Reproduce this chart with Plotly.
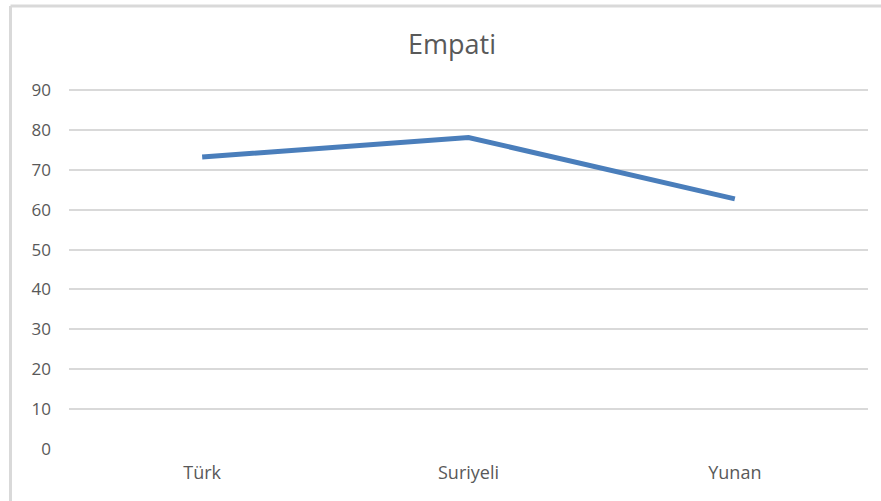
import plotly.graph_objects as go

# data
kategoriler = ["Türk", "Suriyeli", "Yunan"]
empati = [73.2, 78.1, 62.7]
y_ticks = [0, 10, 20, 30, 40, 50, 60, 70, 80, 90]

fig = go.Figure()
fig.add_trace(go.Scatter(x=kategoriler, y=empati, mode="lines",
                         line=dict(color="#4a7ebb", width=5), showlegend=False))

# chart frame: only its left and top edges are inside the picture
frame = dict(color="#d9d9d9", width=3)
fig.update_layout(
    width=881, height=501,
    margin=dict(l=69, r=13, t=88, b=52),
    paper_bgcolor="white", plot_bgcolor="white",
    font=dict(family="Open Sans", color="#595959", size=17),
    title=dict(text="Empati", x=452 / 881, xref="container", xanchor="center",
               y=1 - 45 / 501, yanchor="middle", font=dict(size=27, color="#595959")),
    shapes=[
        dict(type="line", xref="paper", yref="paper", x0=-0.0732, x1=-0.0732,
             y0=-0.3, y1=1.227, line=frame, layer="below"),
        dict(type="line", xref="paper", yref="paper", x0=-0.0732, x1=1.3,
             y0=1.227, y1=1.227, line=frame, layer="below"),
    ],
)
fig.update_xaxes(showgrid=False, showline=False, zeroline=False,
                 range=[-0.5, 2.5], ticks="", ticklabelstandoff=11,
                 tickfont=dict(size=18))
fig.update_yaxes(range=[0, 90.5], tickvals=y_ticks, showgrid=True,
                 gridcolor="#d9d9d9", gridwidth=2, zeroline=False,
                 showline=False, ticks="", ticklabelstandoff=17)

# drop the default body margin so the figure fills the window without scrollbars
fig.write_html("out.html", config={"displayModeBar": False}, post_script=(
    "document.body.style.margin='0';"
    "document.body.style.overflow='hidden';"
    "document.documentElement.style.overflow='hidden';"))
